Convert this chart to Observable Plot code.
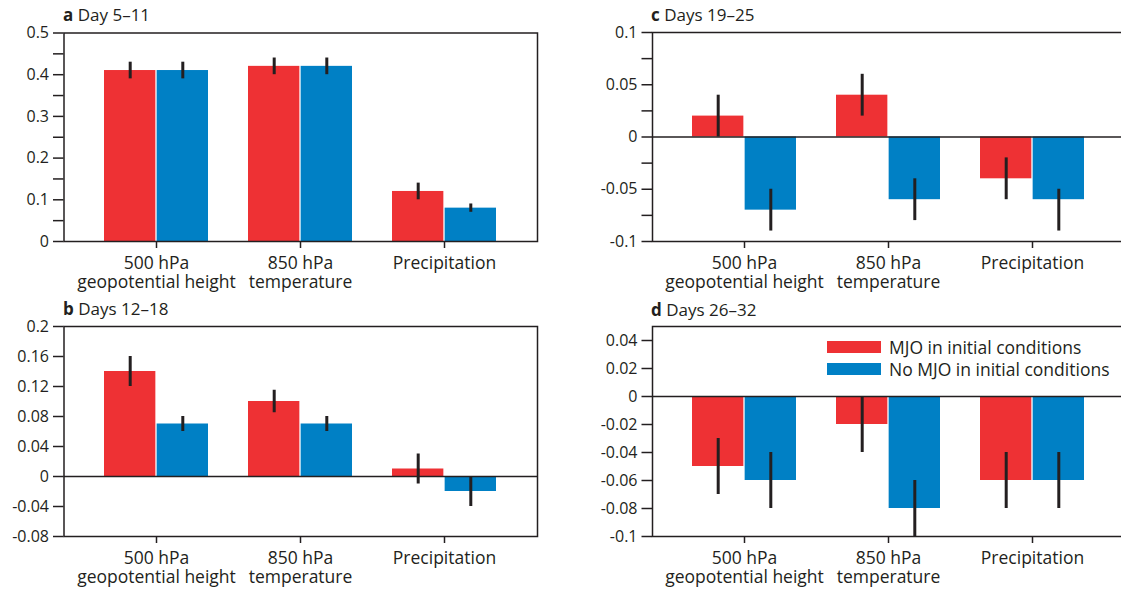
<!DOCTYPE html>
<html>
<head>
<meta charset="utf-8">
<script src="https://cdn.jsdelivr.net/npm/d3@7"></script>
<script src="https://cdn.jsdelivr.net/npm/@observablehq/plot@0.6"></script>
<style>
html, body { margin: 0; padding: 0; background: #fff; overflow: hidden; }
#page { position: relative; width: 1121px; height: 590px; overflow: hidden; font-family: "Open Sans", sans-serif; color: #231f20; }
.panel { position: absolute; }
.title { position: absolute; font-size: 17px; line-height: 17px; white-space: nowrap; }
.title b { font-weight: 700; }
.sw { position: absolute; width: 54px; height: 12px; }
.lg { position: absolute; font-size: 17.5px; line-height: 22px; white-space: nowrap; }
</style>
</head>
<body>
<div id="page"></div>
<script>
// ---- data ----
const categories = ["500 hPa\ngeopotential height", "850 hPa\ntemperature", "Precipitation"];
const seriesNames = ["MJO in initial conditions", "No MJO in initial conditions"];

// a  Day 5–11
const mjoA = [0.41, 0.42, 0.12];
const mjoLoA = [0.39, 0.40, 0.10];
const mjoHiA = [0.43, 0.44, 0.14];
const noA = [0.41, 0.42, 0.08];
const noLoA = [0.39, 0.40, 0.07];
const noHiA = [0.43, 0.44, 0.09];
const ticksA = [0, 0.1, 0.2, 0.3, 0.4, 0.5];
const minorA = [0.05, 0.15, 0.25, 0.35, 0.45];

// b  Days 12–18
const mjoB = [0.14, 0.10, 0.01];
const mjoLoB = [0.12, 0.085, -0.01];
const mjoHiB = [0.16, 0.115, 0.03];
const noB = [0.07, 0.07, -0.02];
const noLoB = [0.06, 0.06, -0.04];
const noHiB = [0.08, 0.08, 0.0];
const ticksB = [-0.08, -0.04, 0, 0.04, 0.08, 0.12, 0.16, 0.2];

// c  Days 19–25
const mjoC = [0.02, 0.04, -0.04];
const mjoLoC = [0.0, 0.02, -0.06];
const mjoHiC = [0.04, 0.06, -0.02];
const noC = [-0.07, -0.06, -0.06];
const noLoC = [-0.09, -0.08, -0.09];
const noHiC = [-0.05, -0.04, -0.05];
const ticksC = [-0.1, -0.05, 0, 0.05, 0.1];
const minorC = [-0.075, -0.025, 0.025, 0.075];

// d  Days 26–32
const mjoD = [-0.05, -0.02, -0.06];
const mjoLoD = [-0.07, -0.04, -0.08];
const mjoHiD = [-0.03, 0.0, -0.04];
const noD = [-0.06, -0.08, -0.06];
const noLoD = [-0.08, -0.10, -0.08];
const noHiD = [-0.04, -0.06, -0.04];
const ticksD = [-0.1, -0.08, -0.06, -0.04, -0.02, 0, 0.02, 0.04];

// ---- style ----
const RED = "#ee3134";
const BLUE = "#0080c5";
const INK = "#231f20";
const HALF = 52.65;   // bar inset: each series takes half of the category band
const OFF = 26.3;     // error bar offset from band centre

const page = document.getElementById("page");

function panel(cfg) {
  const rows = categories.map((c, i) => ({
    cat: c,
    mjo: cfg.mjo[i], mjoLo: cfg.mjoLo[i], mjoHi: cfg.mjoHi[i],
    no: cfg.no[i], noLo: cfg.noLo[i], noHi: cfg.noHi[i]
  }));
  const marks = [
    Plot.barY(rows, {x: "cat", y: "mjo", fill: RED, insetRight: HALF}),
    Plot.barY(rows, {x: "cat", y: "no", fill: BLUE, insetLeft: HALF}),
    Plot.ruleX(rows, {x: "cat", y1: "mjoLo", y2: "mjoHi", dx: -OFF, stroke: INK, strokeWidth: 3}),
    Plot.ruleX(rows, {x: "cat", y1: "noLo", y2: "noHi", dx: OFF, stroke: INK, strokeWidth: 3}),
    cfg.zero ? Plot.ruleY([0], {stroke: INK, strokeWidth: 1.5}) : null,
    Plot.frame({stroke: INK, strokeWidth: 1.5}),
    Plot.axisY(cfg.ticks, {tickSize: 10.5, tickPadding: 4.5, tickFormat: d => String(d), fontSize: 16, color: INK, strokeWidth: 1.5, label: null}),
    cfg.minor ? Plot.axisY(cfg.minor, {tickSize: 10.5, tickFormat: () => "", color: INK, strokeWidth: 1.5, label: null}) : null,
    Plot.axisX({tickSize: 7, tickPadding: 7, fontSize: 17.5, lineHeight: 1.07, color: INK, strokeWidth: 1.5, label: null})
  ].filter(Boolean);
  const svg = Plot.plot({
    width: cfg.width, height: cfg.height,
    marginLeft: cfg.mL, marginRight: cfg.mR, marginTop: cfg.mT, marginBottom: cfg.mB,
    x: {type: "band", domain: categories, paddingInner: 0.28, paddingOuter: 0.28, label: null},
    y: {domain: cfg.domain, label: null},
    style: {fontFamily: "Open Sans", fontSize: "16px", maxWidth: "none", overflow: "visible", background: "transparent", color: INK},
    marks
  });
  const div = document.createElement("div");
  div.className = "panel";
  div.style.left = cfg.left + "px";
  div.style.top = cfg.top + "px";
  div.appendChild(svg);
  page.appendChild(div);

  const t = document.createElement("div");
  t.className = "title";
  t.style.left = cfg.tx + "px";
  t.style.top = cfg.ty + "px";
  t.innerHTML = `<b>${cfg.letter}</b> ${cfg.title}`;
  page.appendChild(t);
}

panel({letter: "a", title: "Day 5–11", mjo: mjoA, mjoLo: mjoLoA, mjoHi: mjoHiA, no: noA, noLo: noLoA, noHi: noHiA,
  domain: [0, 0.5], ticks: ticksA, minor: minorA, zero: false,
  left: 0, top: 0, width: 560, height: 295, mL: 63.5, mR: 23, mT: 32.5, mB: 54, tx: 63, ty: 6});
panel({letter: "b", title: "Days 12–18", mjo: mjoB, mjoLo: mjoLoB, mjoHi: mjoHiB, no: noB, noLo: noLoB, noHi: noHiB,
  domain: [-0.08, 0.2], ticks: ticksB, minor: null, zero: true,
  left: 0, top: 295, width: 560, height: 295, mL: 63.5, mR: 23, mT: 31, mB: 54, tx: 63, ty: 300});
panel({letter: "c", title: "Days 19–25", mjo: mjoC, mjoLo: mjoLoC, mjoHi: mjoHiC, no: noC, noLo: noLoC, noHi: noHiC,
  domain: [-0.1, 0.1], ticks: ticksC, minor: minorC, zero: true,
  left: 560, top: 0, width: 570, height: 295, mL: 92, mR: 5.5, mT: 32, mB: 54, tx: 651, ty: 6});
panel({letter: "d", title: "Days 26–32", mjo: mjoD, mjoLo: mjoLoD, mjoHi: mjoHiD, no: noD, noLo: noLoD, noHi: noHiD,
  domain: [-0.1, 0.05], ticks: ticksD, minor: null, zero: true,
  left: 560, top: 295, width: 570, height: 295, mL: 92, mR: 5.5, mT: 31, mB: 54, tx: 651, ty: 301});

// legend (panel d)
const legendColors = [RED, BLUE];
seriesNames.forEach((name, i) => {
  const sw = document.createElement("div");
  sw.className = "sw";
  sw.style.left = "827px";
  sw.style.top = (341 + i * 22) + "px";
  sw.style.background = legendColors[i];
  page.appendChild(sw);
  const lg = document.createElement("div");
  lg.className = "lg";
  lg.style.left = "889px";
  lg.style.top = (336 + i * 22) + "px";
  lg.textContent = name;
  page.appendChild(lg);
});
</script>
</body>
</html>
